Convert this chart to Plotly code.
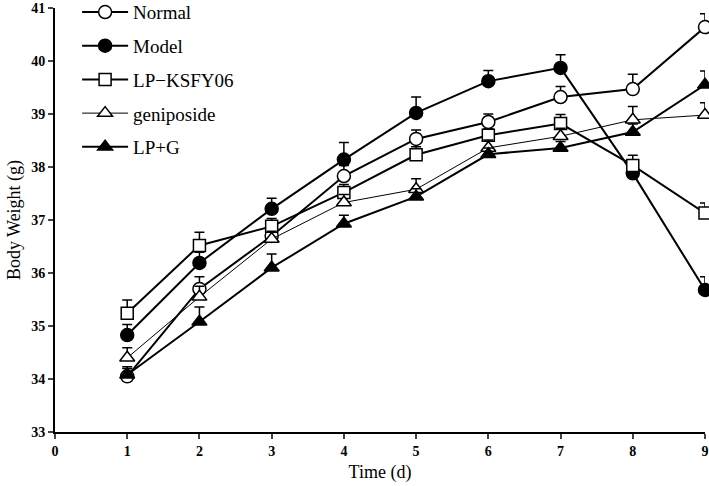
import plotly.graph_objects as go

days = [1, 2, 3, 4, 5, 6, 7, 8, 9]

normal = [34.05, 35.70, 36.70, 37.83, 38.53, 38.85, 39.32, 39.47, 40.64]
normal_err = [0.15, 0.23, 0.20, 0.20, 0.17, 0.15, 0.20, 0.28, 0.25]

model = [34.83, 36.19, 37.21, 38.14, 39.02, 39.62, 39.87, 37.88, 35.68]
model_err = [0.20, 0.20, 0.20, 0.32, 0.30, 0.20, 0.25, 0.15, 0.25]

lp = [35.24, 36.52, 36.88, 37.52, 38.23, 38.60, 38.82, 38.03, 37.13]
lp_err = [0.25, 0.25, 0.15, 0.15, 0.15, 0.12, 0.17, 0.19, 0.19]

genip = [34.40, 35.55, 36.64, 37.33, 37.58, 38.36, 38.58, 38.89, 38.98]
genip_err = [0.19, 0.20, 0.15, 0.15, 0.20, 0.15, 0.15, 0.25, 0.23]

lpg = [34.08, 35.08, 36.10, 36.93, 37.44, 38.24, 38.36, 38.66, 39.55]
lpg_err = [0.15, 0.28, 0.26, 0.16, 0.15, 0.12, 0.12, 0.15, 0.26]

names = ["Normal", "Model", "LP\u2212KSFY06", "geniposide", "LP+G"]
x_ticks = [0, 1, 2, 3, 4, 5, 6, 7, 8, 9]
y_ticks = [33, 34, 35, 36, 37, 38, 39, 40, 41]

series = [
    (names[0], normal, normal_err, "circle", "white", 2),
    (names[1], model, model_err, "circle", "black", 2),
    (names[2], lp, lp_err, "square", "white", 2),
    (names[3], genip, genip_err, "triangle-up", "white", 1),
    (names[4], lpg, lpg_err, "triangle-up", "black", 2),
]

fig = go.Figure()
for i, (nm, vals, err, sym, fill, lw) in enumerate(series):
    fig.add_trace(go.Scatter(
        x=days, y=vals, name=nm, mode="lines+markers",
        legendgroup=f"g{i}",
        line=dict(color="black", width=lw),
        marker=dict(symbol=sym, size=13 if sym != "square" else 12, color=fill,
                    line=dict(color="black", width=1.5)),
        error_y=dict(type="data", symmetric=False, array=err,
                     arrayminus=[0] * len(err), color="black",
                     thickness=1.5, width=5),
        cliponaxis=False,
    ))

serif = "Liberation Serif, Times New Roman, serif"
fig.update_layout(
    width=709, height=486,
    margin=dict(l=55, r=4, t=8, b=54, autoexpand=False),
    paper_bgcolor="white", plot_bgcolor="white",
    font=dict(family=serif, color="black"),
    showlegend=True,
    legend=dict(x=0.034, y=1.035, xanchor="left", yanchor="top",
                font=dict(family=serif, size=19, color="black"),
                tracegroupgap=6, bgcolor="rgba(0,0,0,0)", itemwidth=46),
    xaxis=dict(range=[0, 9], tickvals=x_ticks, ticks="outside", ticklen=5,
               tickwidth=2, showline=True, linewidth=2, linecolor="black",
               showgrid=False, zeroline=False, automargin=False,
               tickfont=dict(family=serif, size=14, color="black", weight="bold"),
               title=dict(text="Time (d)", font=dict(family=serif, size=18),
                          standoff=8)),
    yaxis=dict(range=[33, 41], tickvals=y_ticks, ticks="outside", ticklen=5,
               tickwidth=2, showline=True, linewidth=2, linecolor="black",
               showgrid=False, zeroline=False, automargin=False,
               tickfont=dict(family=serif, size=14, color="black", weight="bold"),
               title=dict(text="Body Weight (g)", font=dict(family=serif, size=18),
                          standoff=6)),
)

fig.write_html(
    "out.html",
    config={"displayModeBar": False},
    post_script="document.body.style.margin='0';document.body.style.overflow='hidden';",
)
